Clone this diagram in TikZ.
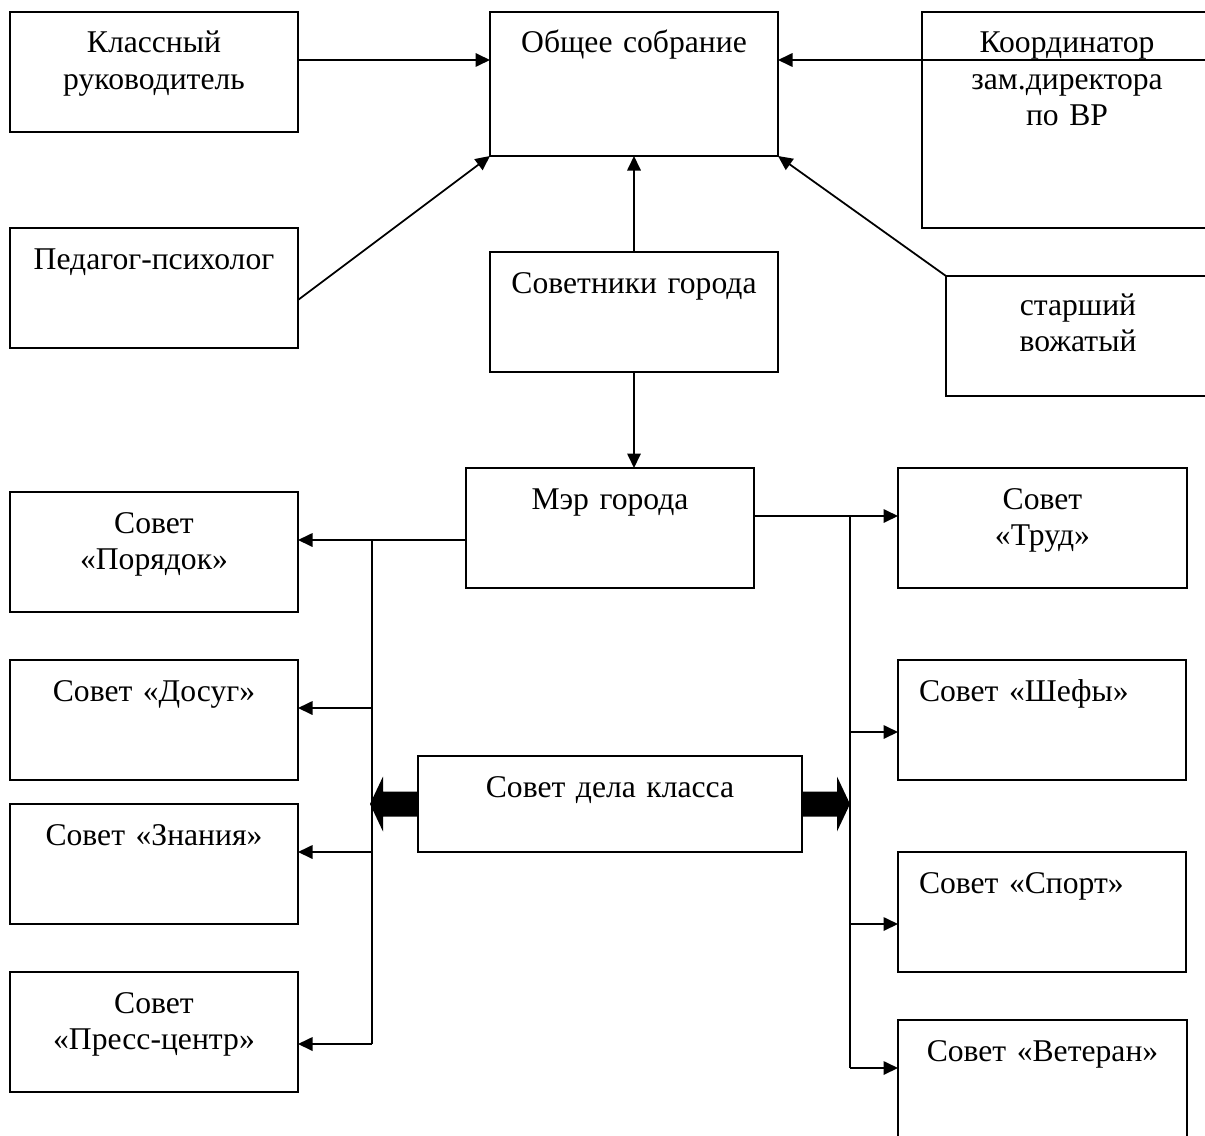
\documentclass[tikz,border=0pt]{standalone}
\usepackage{fontspec}
\setmainfont{Liberation Serif}
\usepackage{tikz}
\usetikzlibrary{arrows.meta, calc, positioning}
\tikzstyle{box} = [rectangle, draw=black, line width=1pt, outer sep=0pt, anchor=north west, inner xsep=0.2cm, inner ysep=0pt, text width=5.36cm, text height=0.82cm, text depth=1.58cm, align=center]
\tikzstyle{boxleft} = [box, inner xsep=0.42cm, text width=4.92cm, align=left]
\tikzstyle{arrow} = [line width=1pt, -{Triangle[length=2.9mm, width=2.7mm]}]
\tikzstyle{line} = [line width=1pt]

\begin{document}
\begin{tikzpicture}[font=\fontsize{18}{20.5}\selectfont]
		\useasboundingbox (0,0) rectangle (24.1,-22.72);
		% top row
		\node (Klass) [box] at (0.2,-0.24) {Классный\\руководитель};
		\node (Obshchee) [box, text depth=2.06cm] at (9.8,-0.24) {Общее собрание};
		\node (Koord) [box, text width=5.4cm, text depth=3.5cm] at (18.44,-0.24) {Координатор\\зам.директора\\по ВР};
		\node (Pedagog) [box, below = 1.92cm of Klass.south west, anchor=north west] {Педагог-психолог};
		\node (Sovetniki) [box, below = 1.92cm of Obshchee.south west, anchor=north west] {Советники города};
		\node (Starshiy) [box, text width=4.88cm, text height=0.78cm, text depth=1.62cm] at (18.92,-5.52) {старший\\вожатый};
		% middle
		\node (Mer) [box] at (9.32,-9.36) {Мэр города};
		\node (Delo) [box, text width=7.28cm, text depth=1.1cm] at (8.36,-15.12) {Совет дела класса};
		% left column
		\node (Poryadok) [box, below = 2.88cm of Pedagog.south west, anchor=north west] {Совет\\«Порядок»};
		\node (Dosug) [box, below = 0.96cm of Poryadok.south west, anchor=north west] {Совет «Досуг»};
		\node (Znaniya) [box, below = 0.48cm of Dosug.south west, anchor=north west] {Совет «Знания»};
		\node (Press) [box, below = 0.96cm of Znaniya.south west, anchor=north west] {Совет\\«Пресс-центр»};
		% right column
		\node (Trud) [box, text width=5.38cm] at (17.96,-9.36) {Совет\\«Труд»};
		\node (Shefy) [boxleft, below = 1.44cm of Trud.south west, anchor=north west] {Совет «Шефы»};
		\node (Sport) [boxleft, below = 1.44cm of Shefy.south west, anchor=north west] {Совет «Спорт»};
		\node (Veteran) [box, text width=5.38cm, below = 0.96cm of Sport.south west, anchor=north west] {Совет «Ветеран»};
		% helper points
		\coordinate (KlassOut) at ([yshift=-0.96cm]Klass.north east);
		\coordinate (KoordOut) at ([yshift=-0.96cm]Koord.north east);
		\coordinate (PedagogOut) at ([yshift=-0.24cm]Pedagog.east);
		\coordinate (MerLeft) at ([yshift=-0.24cm]Mer.west);
		\coordinate (MerRight) at ([yshift=0.24cm]Mer.east);
		\coordinate (BusL) at (7.44,0);
		\coordinate (BusR) at (17.0,0);
		\coordinate (DosugIn) at ([yshift=0.24cm]Dosug.east);
		\coordinate (ZnaniyaIn) at ([yshift=0.24cm]Znaniya.east);
		\coordinate (PressIn) at ([yshift=-0.24cm]Press.east);
		\coordinate (ShefyIn) at ([yshift=-0.24cm]Shefy.west);
		\coordinate (SportIn) at ([yshift=-0.24cm]Sport.west);
		\coordinate (VeteranIn) at ([yshift=-0.96cm]Veteran.north west);
		% into the general meeting
		\draw [arrow] (KlassOut) -- (KlassOut -| Obshchee.west);
		\draw [arrow] (KoordOut) -- (KoordOut -| Obshchee.east);
		\draw [arrow] (PedagogOut) -- (Obshchee.south west);
		\draw [arrow] (Sovetniki.north) -- (Obshchee.south);
		\draw [arrow] (Starshiy.north west) -- (Obshchee.south east);
		\draw [arrow] (Sovetniki.south) -- (Sovetniki.south |- Mer.north);
		% left councils
		\draw [arrow] (MerLeft) -- (MerLeft -| Poryadok.east);
		\draw [line] (MerLeft -| BusL) -- (PressIn -| BusL);
		\draw [arrow] (DosugIn -| BusL) -- (DosugIn);
		\draw [arrow] (ZnaniyaIn -| BusL) -- (ZnaniyaIn);
		\draw [arrow] (PressIn -| BusL) -- (PressIn);
		% right councils
		\draw [arrow] (MerRight) -- (MerRight -| Trud.west);
		\draw [line] (MerRight -| BusR) -- (VeteranIn -| BusR);
		\draw [arrow] (ShefyIn -| BusR) -- (ShefyIn);
		\draw [arrow] (SportIn -| BusR) -- (SportIn);
		\draw [arrow] (VeteranIn -| BusR) -- (VeteranIn);
		% fat arrows of the class council
		\fill (Delo.west) ++(0,0.25) -- ++(-0.7,0) -- ++(0,0.3) -- ++(-0.26,-0.55) -- ++(0.26,-0.55) -- ++(0,0.3) -- ++(0.7,0) -- cycle;
		\fill (Delo.east) ++(0,0.25) -- ++(0.7,0) -- ++(0,0.3) -- ++(0.26,-0.55) -- ++(-0.26,-0.55) -- ++(0,0.3) -- ++(-0.7,0) -- cycle;
\end{tikzpicture}
\end{document}
